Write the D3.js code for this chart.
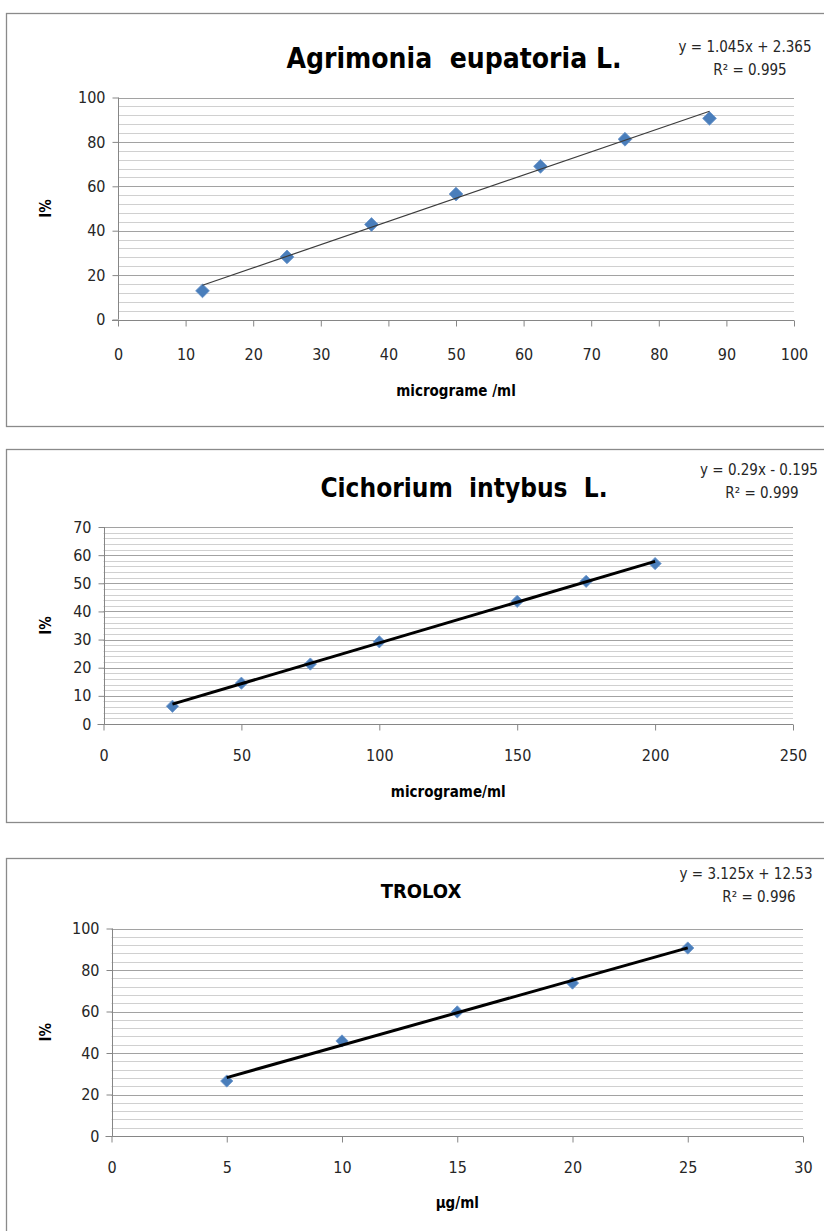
<!DOCTYPE html>
<html>
<head>
<meta charset="utf-8">
<script src="https://cdn.jsdelivr.net/npm/d3@7"></script>
<style>
  body { margin: 0; background: #fff; }
  svg text { font-family: "DejaVu Sans Condensed", "Liberation Sans", sans-serif; white-space: pre; }
</style>
</head>
<body>
<svg id="chart" width="824" height="1231"></svg>
<script>
// ---- Agrimonia eupatoria L. ----
const agrimoniaTitle = "Agrimonia  eupatoria L.";
const agrimoniaX = [12.5, 25, 37.5, 50, 62.5, 75, 87.5];
const agrimoniaY = [12.9, 28.2, 42.8, 56.5, 69.0, 81.2, 90.6];
const agrimoniaSlope = 1.045, agrimoniaIntercept = 2.365;
const agrimoniaEquation = ["y = 1.045x + 2.365", "R² = 0.995"];
const agrimoniaXTicks = [0, 10, 20, 30, 40, 50, 60, 70, 80, 90, 100];
const agrimoniaYTicks = [0, 20, 40, 60, 80, 100];
const agrimoniaXLabel = "micrograme /ml";

// ---- Cichorium intybus L. ----
const cichoriumTitle = "Cichorium  intybus  L.";
const cichoriumX = [25, 50, 75, 100, 150, 175, 200];
const cichoriumY = [6.3, 14.5, 21.3, 29.2, 43.6, 50.7, 57.0];
const cichoriumSlope = 0.29, cichoriumIntercept = -0.195;
const cichoriumEquation = ["y = 0.29x - 0.195", "R² = 0.999"];
const cichoriumXTicks = [0, 50, 100, 150, 200, 250];
const cichoriumYTicks = [0, 10, 20, 30, 40, 50, 60, 70];
const cichoriumXLabel = "micrograme/ml";

// ---- TROLOX ----
const troloxTitle = "TROLOX";
const troloxX = [5, 10, 15, 20, 25];
const troloxY = [26.5, 45.8, 59.8, 73.7, 90.6];
const troloxSlope = 3.125, troloxIntercept = 12.53;
const troloxEquation = ["y = 3.125x + 12.53", "R² = 0.996"];
const troloxXTicks = [0, 5, 10, 15, 20, 25, 30];
const troloxYTicks = [0, 20, 40, 60, 80, 100];
const troloxXLabel = "µg/ml";

const yLabel = "I%";

// Layout of each panel (frame, plot area, text anchors)
const panels = [
  {
    title: agrimoniaTitle, xs: agrimoniaX, ys: agrimoniaY,
    slope: agrimoniaSlope, intercept: agrimoniaIntercept, eq: agrimoniaEquation,
    xTicks: agrimoniaXTicks, yTicks: agrimoniaYTicks, xLabel: agrimoniaXLabel,
    minorStep: 4,
    frame: { x: 6.5, y: 13.5, w: 830, h: 413 },
    plot: { left: 118, right: 794, top: 97.5, bottom: 319.5 },
    titlePos: { x: 454, y: 68, size: 28 },
    eqPos: [{ x: 745, y: 52 }, { x: 750, y: 75 }],
    xLabelY: 396, tickLabelDy: 38,
    trend: { color: "#3c3c3c", width: 1.2 }, marker: 95
  },
  {
    title: cichoriumTitle, xs: cichoriumX, ys: cichoriumY,
    slope: cichoriumSlope, intercept: cichoriumIntercept, eq: cichoriumEquation,
    xTicks: cichoriumXTicks, yTicks: cichoriumYTicks, xLabel: cichoriumXLabel,
    minorStep: 2,
    frame: { x: 6.5, y: 449.5, w: 830, h: 373 },
    plot: { left: 103.5, right: 793, top: 527, bottom: 724 },
    titlePos: { x: 464, y: 497, size: 26 },
    eqPos: [{ x: 759, y: 475 }, { x: 762, y: 498 }],
    xLabelY: 797, tickLabelDy: 35,
    trend: { color: "#000", width: 3 }, marker: 75
  },
  {
    title: troloxTitle, xs: troloxX, ys: troloxY,
    slope: troloxSlope, intercept: troloxIntercept, eq: troloxEquation,
    xTicks: troloxXTicks, yTicks: troloxYTicks, xLabel: troloxXLabel,
    minorStep: 4,
    frame: { x: 6.5, y: 858.5, w: 830, h: 380 },
    plot: { left: 111.5, right: 803, top: 928.5, bottom: 1136 },
    titlePos: { x: 421, y: 898, size: 20 },
    eqPos: [{ x: 746, y: 879 }, { x: 759, y: 902 }],
    xLabelY: 1208, tickLabelDy: 35,
    trend: { color: "#000", width: 3 }, marker: 75
  }
];

const svg = d3.select("#chart");
const axisColor = "#868686";

panels.forEach(p => {
  const g = svg.append("g");

  // outer chart frame
  g.append("rect")
    .attr("x", p.frame.x).attr("y", p.frame.y)
    .attr("width", p.frame.w).attr("height", p.frame.h)
    .attr("fill", "#fff").attr("stroke", "#8a8a8a").attr("stroke-width", 1.3);

  const xDom = d3.extent(p.xTicks), yDom = d3.extent(p.yTicks);
  const x = d3.scaleLinear().domain(xDom).range([p.plot.left, p.plot.right]);
  const y = d3.scaleLinear().domain(yDom).range([p.plot.bottom, p.plot.top]);

  // minor gridlines
  const minor = d3.range(yDom[0], yDom[1] + 1e-9, p.minorStep).filter(v => !p.yTicks.includes(v));
  g.append("g").selectAll("line").data(minor).join("line")
    .attr("x1", x(xDom[0])).attr("x2", x(xDom[1]))
    .attr("y1", d => Math.round(y(d)) + 0.5).attr("y2", d => Math.round(y(d)) + 0.5)
    .attr("stroke", "#d0d0d0").attr("stroke-width", 1);

  // major gridlines
  g.append("g").selectAll("line").data(p.yTicks.filter(v => v !== yDom[0])).join("line")
    .attr("x1", x(xDom[0])).attr("x2", x(xDom[1]))
    .attr("y1", d => Math.round(y(d)) + 0.5).attr("y2", d => Math.round(y(d)) + 0.5)
    .attr("stroke", "#a2a2a2").attr("stroke-width", 1);

  // y axis
  const yAxis = d3.axisLeft(y).tickValues(p.yTicks).tickSize(6).tickPadding(7).tickFormat(d3.format("d"));
  const ya = g.append("g").attr("transform", `translate(${Math.round(p.plot.left) + 0.5},0)`).call(yAxis);
  // x axis
  const xAxis = d3.axisBottom(x).tickValues(p.xTicks).tickSize(6).tickPadding(p.tickLabelDy - 16).tickFormat(d3.format("d"));
  const xa = g.append("g").attr("transform", `translate(0,${Math.round(p.plot.bottom) + 0.5})`).call(xAxis);

  [ya, xa].forEach(a => {
    a.select(".domain").remove();
    a.selectAll(".tick line").attr("stroke", axisColor);
    a.selectAll(".tick text").attr("fill", "#262626").style("font-size", "16px");
  });
  // axis lines
  g.append("line")
    .attr("x1", Math.round(p.plot.left) + 0.5).attr("x2", Math.round(p.plot.left) + 0.5)
    .attr("y1", p.plot.top).attr("y2", p.plot.bottom)
    .attr("stroke", axisColor);
  g.append("line")
    .attr("x1", p.plot.left - 6).attr("x2", p.plot.right)
    .attr("y1", Math.round(p.plot.bottom) + 0.5).attr("y2", Math.round(p.plot.bottom) + 0.5)
    .attr("stroke", axisColor);

  // data markers (diamonds)
  const diamond = d3.symbol().type(d3.symbolSquare).size(p.marker);
  g.append("g").selectAll("path").data(p.xs.map((v, i) => [v, p.ys[i]])).join("path")
    .attr("d", diamond)
    .attr("transform", d => `translate(${x(d[0])},${y(d[1])}) rotate(45)`)
    .attr("fill", "#4a7ebb").attr("stroke", "#6b96cb").attr("stroke-width", 0.8);

  // linear trendline over the data range
  const x0 = d3.min(p.xs), x1 = d3.max(p.xs);
  g.append("path")
    .datum([x0, x1])
    .attr("d", d3.line().x(d => x(d)).y(d => y(p.slope * d + p.intercept)))
    .attr("stroke", p.trend.color).attr("stroke-width", p.trend.width).attr("fill", "none");

  // title
  g.append("text")
    .attr("x", p.titlePos.x).attr("y", p.titlePos.y)
    .attr("text-anchor", "middle").attr("font-weight", "bold")
    .style("font-size", p.titlePos.size + "px").attr("fill", "#000")
    .text(p.title);

  // trendline equation and R²
  p.eq.forEach((t, i) => {
    g.append("text")
      .attr("x", p.eqPos[i].x).attr("y", p.eqPos[i].y)
      .attr("text-anchor", "middle").style("font-size", "15px").attr("fill", "#262626")
      .text(t);
  });

  // axis titles
  g.append("text")
    .attr("x", (p.plot.left + p.plot.right) / 2).attr("y", p.xLabelY)
    .attr("text-anchor", "middle").attr("font-weight", "bold").style("font-size", "15px")
    .attr("fill", "#000").text(p.xLabel);
  g.append("text")
    .attr("transform", `translate(51,${(p.plot.top + p.plot.bottom) / 2}) rotate(-90)`)
    .attr("text-anchor", "middle").attr("font-weight", "bold").style("font-size", "15px")
    .attr("fill", "#000").text(yLabel);
});
</script>
</body>
</html>
